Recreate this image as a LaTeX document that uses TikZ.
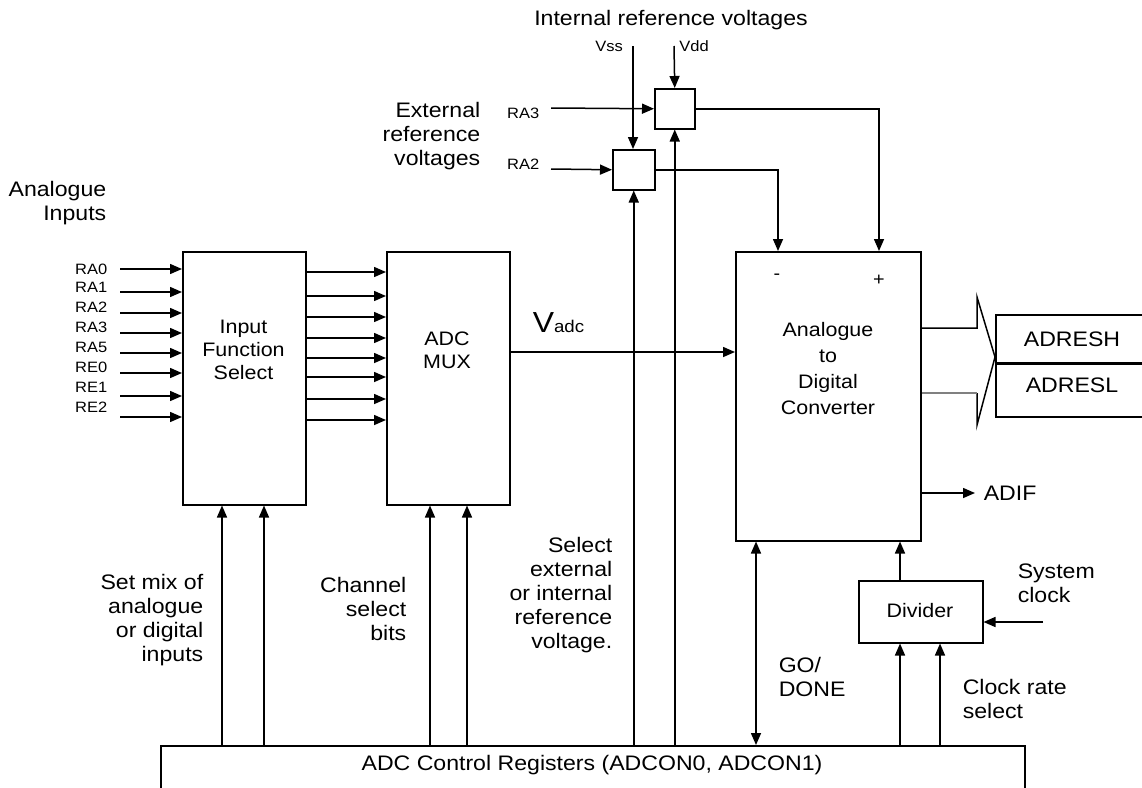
\documentclass[tikz,border=0pt]{standalone}
\usepackage{fontspec}
\setmainfont{Liberation Sans}[FakeStretch=1.1]
\usetikzlibrary{arrows.meta}
\begin{document}
\begin{tikzpicture}[x=1pt,y=-1pt,line width=1.5pt,
  arr/.style={-{Triangle[length=12pt,width=10pt]}},
  arrb/.style={{Triangle[length=12pt,width=10pt]}-{Triangle[length=12pt,width=10pt]}},
  blk/.style={draw,anchor=north west,inner sep=0pt},
  lbl/.style={font=\fontsize{21}{24}\selectfont,inner sep=0pt},
  inlbl/.style={font=\fontsize{19.5}{23}\selectfont,inner sep=0pt,align=center},
  sml/.style={font=\fontsize{15}{15}\selectfont,inner sep=0pt}]
\useasboundingbox (0,0) rectangle (1142,787);
% blocks
\node[blk,minimum width=123pt,minimum height=253pt] (ifs) at (182,251) {};
\node[blk,minimum width=123pt,minimum height=253pt] (mux) at (386,251) {};
\node[blk,minimum width=185pt,minimum height=289pt] (adc) at (735,251) {};
\node[blk,minimum width=40pt,minimum height=40pt] (rb3) at (654,88) {};
\node[blk,minimum width=42pt,minimum height=40pt] (rb2) at (612,149) {};
\node[blk,minimum width=124pt,minimum height=62pt] (div) at (858,580) {};
\node[blk,minimum width=864pt,minimum height=60pt] (reg) at (160,745) {};
\node[blk,minimum width=160pt,minimum height=48pt] (resh) at (995,314) {};
\node[blk,minimum width=160pt,minimum height=54pt] (resl) at (995,362) {};
\draw[line width=2.8pt] (resh.south west) -- (resh.south east);
% block texts
\node[inlbl] (tifs) at (243.5,350) {Input\\Function\\Select};
\node[inlbl] (tmux) at (447,350) {ADC\\MUX};
\node[inlbl,font=\fontsize{19.5}{26}\selectfont] (tadc) at (828,369) {Analogue\\to\\Digital\\Converter};
\node[inlbl] (tdiv) at (920,611) {Divider};
\node[lbl] (treg) at (592,765) {ADC Control Registers (ADCON0, ADCON1)};
\node[lbl] (tresh) at (1072,339) {ADRESH};
\node[lbl] (tresl) at (1072,385) {ADRESL};
\node[sml,font=\fontsize{18}{18}\selectfont] (tminus) at (777,277) {-};
\node[sml,font=\fontsize{18}{18}\selectfont] (tplus) at (879,280) {+};
% analogue inputs
\node[lbl,align=right,anchor=east] (tai) at (107,203) {Analogue\\Inputs};
\foreach \n/\ly/\ay in {RA0/269/269,RA1/287/292,RA2/307/313,RA3/327/333,RA5/347/353,RE0/367/373,RE1/387/396,RE2/407/417}{
  \node[sml,anchor=east] (l\n) at (108,\ly) {\n};
  \coordinate (c\n) at (120,\ay);
  \draw[arr] (c\n) -- (c\n -| ifs.west);
}
% IFS -> MUX
\foreach \y in {272,296,317,338,358,377,399,420}{
  \draw[arr] (ifs.east |- 0,\y) -- (mux.west |- 0,\y);
}
% MUX -> ADC
\draw[arr] (mux.east |- 0,352) -- (adc.west |- 0,352);
\node[anchor=base west,inner sep=0pt] (tvadc) at (532,332) {{\fontsize{29}{29}\selectfont V}{\fontsize{17}{17}\selectfont adc}};
% reference voltages
\node[lbl] (tint) at (671,20) {Internal reference voltages};
\node[sml] (tvss) at (609,46) {Vss};
\node[sml] (tvdd) at (694,46) {Vdd};
\coordinate (vss) at (633,46);
\coordinate (vdd) at (674,46);
\draw[arr] (vss) -- (vss |- rb2.north);
\draw[arr] (vdd) -- (rb3.north);
\node[lbl,align=right,anchor=east] (text) at (481,136) {External\\reference\\voltages};
\node[sml,anchor=east] (lra3) at (540,113) {RA3};
\node[sml,anchor=east] (lra2) at (540,164) {RA2};
\coordinate (ra3in) at (551,108);
\coordinate (ra2in) at (551,169);
\draw[arr] (ra3in) -- (rb3.west);
\draw[arr] (ra2in) -- (rb2.west);
\draw[arr] (rb3.east) -| (adc.north -| 879,0);
\draw[arr] (rb2.east) -| (adc.north -| 778,0);
% control lines
\foreach \x/\t in {222/ifs,264/ifs,430/mux,467/mux}{
  \draw[arr] (reg.north -| \x,0) -- (\t.south -| \x,0);
}
\draw[arr] (reg.north -| rb2.south) -- (rb2.south);
\draw[arr] (reg.north -| rb3.south) -- (rb3.south);
\draw[arrb] (adc.south -| 756,0) -- (reg.north -| 756,0);
\draw[arr] (reg.north -| 900,0) -- (div.south -| 900,0);
\draw[arr] (reg.north -| 940,0) -- (div.south -| 940,0);
\draw[arr] (div.north -| 900,0) -- (adc.south -| 900,0);
\coordinate (sclk) at (1043,622);
\draw[arr] (sclk) -- (sclk -| div.east);
% output bus arrow
\draw (adc.east |- 0,328) -- (977,328) -- (977,297) -- (995,357) -- (977,425) -- (977,393);
\draw[gray] (977,393) -- (adc.east |- 0,393);
\coordinate (adif) at (975,493);
\draw[arr] (adc.east |- adif) -- (adif);
\node[lbl,anchor=west] (tadif) at (983,493) {ADIF};
% bottom labels
\node[lbl,align=right,anchor=east] (tmix) at (204,620) {Set mix of\\analogue\\or digital\\inputs};
\node[lbl,align=right,anchor=east] (tchan) at (407,609) {Channel\\select\\bits};
\node[lbl,align=right,anchor=east] (tsel) at (613,595) {Select\\external\\or internal\\reference\\voltage.};
\node[lbl,align=left,anchor=west] (tgo) at (778,677) {GO/\\DONE};
\node[lbl,align=left,anchor=west] (tsys) at (1017,583) {System\\clock};
\node[lbl,align=left,anchor=west] (tclk) at (962,699) {Clock rate\\select};
\end{tikzpicture}
\end{document}
